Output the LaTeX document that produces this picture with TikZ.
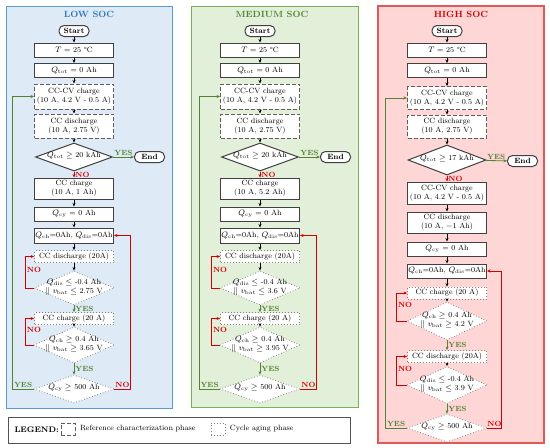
\documentclass[tikz,border=0pt]{standalone}
\usepackage{fontspec}
\usepackage{amsmath}
\usetikzlibrary{positioning,shapes.geometric,arrows.meta}

\definecolor{lowfill}{RGB}{222,235,247}
\definecolor{lowline}{RGB}{91,155,213}
\definecolor{lowtitle}{RGB}{46,117,182}
\definecolor{medfill}{RGB}{226,240,217}
\definecolor{medline}{RGB}{120,176,85}
\definecolor{medtitle}{RGB}{84,130,53}
\definecolor{highfill}{RGB}{255,214,214}
\definecolor{highline}{RGB}{224,88,88}
\definecolor{hightitle}{RGB}{200,0,0}
\definecolor{yesgreen}{RGB}{84,130,53}
\definecolor{nored}{RGB}{210,0,0}
\definecolor{boxgray}{RGB}{64,64,64}

\newcommand{\flowfont}{\fontsize{7.6}{9.2}\selectfont}
\newcommand{\yesnofont}{\fontsize{7.5}{8}\selectfont\bfseries}
\newcommand{\socfont}{\fontsize{9}{10}\selectfont\bfseries}
\newcommand{\dtext}[1]{\smash{\makebox[0pt]{\raisebox{-1pt}{\begin{tabular}{@{}c@{}}#1\end{tabular}}}}}

\tikzset{
  panel/.style={line width=0.8pt},
  block/.style={draw=boxgray, line width=1pt, fill=white, minimum width=79pt,
    minimum height=14pt, inner sep=0pt, align=center, font=\flowfont},
  refblock/.style={block, draw=boxgray!85, dash pattern=on 4pt off 2pt},
  cycblock/.style={block, draw=gray, dotted, line width=0.8pt, minimum height=12pt},
  decision/.style={diamond, draw=gray, dotted, line width=0.8pt, fill=white,
    inner sep=0pt, minimum width=80pt, minimum height=34pt, font=\flowfont},
  gate/.style={decision, solid, draw=boxgray, line width=1pt,
    minimum width=77pt, minimum height=28pt},
  terminal/.style={draw=boxgray, line width=1pt, fill=white, rounded corners=5pt,
    minimum width=30pt, minimum height=11pt, inner sep=0pt, font=\flowfont\bfseries},
  flow/.style={-{Stealth[length=3.5pt,width=3pt]}, line width=0.6pt},
  yesflow/.style={flow, draw=yesgreen, line width=0.8pt},
  noflow/.style={flow, draw=nored, line width=0.8pt},
  yeslabel/.style={text=yesgreen, font=\yesnofont, inner sep=1pt},
  nolabel/.style={text=nored, font=\yesnofont, inner sep=1pt},
  title/.style={font=\socfont}
}

\begin{document}
\begin{tikzpicture}[x=1pt,y=-1pt]
\useasboundingbox (0,0) rectangle (550,448);

% panels
\draw[panel, fill=lowfill, draw=lowline] (6,6) rectangle (172,408);
\draw[panel, fill=medfill, draw=medline] (191,6) rectangle (358,407);
\draw[panel, line width=1.3pt, fill=highfill, draw=highline] (378,6) rectangle (544,443);

\node[title, text=lowtitle] (Ltitle) at (89,14) {LOW SOC};
\node[title, text=medtitle] (Mtitle) at (272,14) {MEDIUM SOC};
\node[title, text=hightitle] (Htitle) at (461,14) {HIGH SOC};

% LOW SOC
\node[terminal] (Lstart) at (74,31) {Start};
\node[block] (LT) at (74,50) {$T$ = 25 °C};
\node[block] (Lqtot) at (74,70.5) {$Q_{\mathrm{tot}}$ = 0 Ah};
\node[refblock, minimum height=25pt] (Lcccv) at (74,96.5) {CC-CV charge\\(10 A, 4.2 V - 0.5 A)};
\node[refblock, minimum height=24pt] (Lccd) at (74,126) {CC discharge\\(10 A, 2.75 V)};
\node[gate] (Ldec) at (74,157) {\dtext{$Q_{\mathrm{tot}}\geq$ 20 kAh}};
\node[terminal] (Lend) at (149.5,157) {End};
\node[block, minimum height=21pt] (Lcc) at (74,188.5) {CC charge\\(10 A, 1 Ah)};
\node[block] (Lqcy) at (74,214) {$Q_{\mathrm{cy}}$ = 0 Ah};
\node[block, minimum height=15pt] (Lqzero) at (74,235.5) {$Q_{\mathrm{ch}}$=0Ah, $Q_{\mathrm{dis}}$=0Ah};
\node[cycblock] (Ldis) at (74,256.5) {CC discharge (20A)};
\node[decision] (Ldisdec) at (74,288) {\dtext{$Q_{\mathrm{dis}}\leq$ -0.4 Ah\\$||$ $v_{\mathrm{bat}}\leq$ 2.75 V}};
\node[cycblock] (Lchg) at (74,318.5) {CC charge (20 A)};
\node[decision, minimum height=36pt] (Lchgdec) at (74,345) {\dtext{$Q_{\mathrm{ch}}\geq$ 0.4 Ah\\$||$ $v_{\mathrm{bat}}\geq$ 3.65 V}};
\node[decision, minimum height=28pt] (Lcydec) at (74,389) {\dtext{$Q_{\mathrm{cy}}\geq$ 500 Ah}};

\draw[flow] (Lstart) -- (LT);
\draw[flow] (LT) -- (Lqtot);
\draw[flow] (Lqtot) -- (Lcccv);
\draw[flow] (Lcccv) -- (Lccd);
\draw[flow] (Lccd) -- (Ldec);
\draw[yesflow] (Ldec) -- node[yeslabel, above] {YES} (Lend);
\draw[noflow] (Ldec) -- node[nolabel, right] {NO} (Lcc);
\draw[flow] (Lcc) -- (Lqcy);
\draw[flow] (Lqcy) -- (Lqzero);
\draw[flow] (Lqzero) -- (Ldis);
\draw[flow] (Ldis) -- (Ldisdec);
\draw[yesflow] (Ldisdec) -- node[yeslabel, right] {YES} (Lchg);
\draw[flow] (Lchg) -- (Lchgdec);
\draw[yesflow] (Lchgdec) -- node[yeslabel, right] {YES} (Lcydec);
\draw[noflow] (Ldisdec.west) -- ++(-8,0) |- node[nolabel, anchor=west, pos=0.28] {NO} (Ldis.west);
\draw[noflow] (Lchgdec.west) -- ++(-8,0) |- node[nolabel, anchor=west, pos=0.28] {NO} (Lchg.west);
\draw[yesflow] (Lcydec.west) -- node[yeslabel, above] {YES} ++(-21,0) |- (Lcccv.west);
\draw[noflow] (Lcydec.east) -- node[nolabel, above] {NO} ++(16,0) |- (Lqzero.east);

% MEDIUM SOC
\begin{scope}[xshift=186]
\node[terminal] (Mstart) at (74,31) {Start};
\node[block] (MT) at (74,50) {$T$ = 25 °C};
\node[block] (Mqtot) at (74,70.5) {$Q_{\mathrm{tot}}$ = 0 Ah};
\node[refblock, minimum height=25pt] (Mcccv) at (74,96.5) {CC-CV charge\\(10 A, 4.2 V - 0.5 A)};
\node[refblock, minimum height=24pt] (Mccd) at (74,126) {CC discharge\\(10 A, 2.75 V)};
\node[gate] (Mdec) at (74,157) {\dtext{$Q_{\mathrm{tot}}\geq$ 20 kAh}};
\node[terminal] (Mend) at (149.5,157) {End};
\node[block, minimum height=21pt] (Mcc) at (74,188.5) {CC charge\\(10 A, 5.2 Ah)};
\node[block] (Mqcy) at (74,214) {$Q_{\mathrm{cy}}$ = 0 Ah};
\node[block, minimum height=15pt] (Mqzero) at (74,235.5) {$Q_{\mathrm{ch}}$=0Ah, $Q_{\mathrm{dis}}$=0Ah};
\node[cycblock] (Mdis) at (74,256.5) {CC discharge (20A)};
\node[decision] (Mdisdec) at (74,288) {\dtext{$Q_{\mathrm{dis}}\leq$ -0.4 Ah\\$||$ $v_{\mathrm{bat}}\leq$ 3.6 V}};
\node[cycblock] (Mchg) at (74,318.5) {CC charge (20 A)};
\node[decision, minimum height=36pt] (Mchgdec) at (74,345) {\dtext{$Q_{\mathrm{ch}}\geq$ 0.4 Ah\\$||$ $v_{\mathrm{bat}}\geq$ 3.95 V}};
\node[decision, minimum height=28pt] (Mcydec) at (74,389) {\dtext{$Q_{\mathrm{cy}}\geq$ 500 Ah}};
\end{scope}

\draw[flow] (Mstart) -- (MT);
\draw[flow] (MT) -- (Mqtot);
\draw[flow] (Mqtot) -- (Mcccv);
\draw[flow] (Mcccv) -- (Mccd);
\draw[flow] (Mccd) -- (Mdec);
\draw[yesflow] (Mdec) -- node[yeslabel, above] {YES} (Mend);
\draw[noflow] (Mdec) -- node[nolabel, right] {NO} (Mcc);
\draw[flow] (Mcc) -- (Mqcy);
\draw[flow] (Mqcy) -- (Mqzero);
\draw[flow] (Mqzero) -- (Mdis);
\draw[flow] (Mdis) -- (Mdisdec);
\draw[yesflow] (Mdisdec) -- node[yeslabel, right] {YES} (Mchg);
\draw[flow] (Mchg) -- (Mchgdec);
\draw[yesflow] (Mchgdec) -- node[yeslabel, right] {YES} (Mcydec);
\draw[noflow] (Mdisdec.west) -- ++(-8,0) |- node[nolabel, anchor=west, pos=0.28] {NO} (Mdis.west);
\draw[noflow] (Mchgdec.west) -- ++(-8,0) |- node[nolabel, anchor=west, pos=0.28] {NO} (Mchg.west);
\draw[yesflow] (Mcydec.west) -- node[yeslabel, above] {YES} ++(-20,0) |- (Mcccv.west);
\draw[noflow] (Mcydec.east) -- node[nolabel, above] {NO} ++(16,0) |- (Mqzero.east);

% HIGH SOC
\begin{scope}[xshift=373]
\node[terminal] (Hstart) at (74,31) {Start};
\node[block] (HT) at (74,50) {$T$ = 25 °C};
\node[block] (Hqtot) at (74,70.5) {$Q_{\mathrm{tot}}$ = 0 Ah};
\node[refblock, minimum height=23pt] (Hcccv) at (74,98) {CC-CV charge\\(10 A, 4.2 V - 0.5 A)};
\node[refblock, minimum height=23pt] (Hccd) at (74,126.5) {CC discharge\\(10 A, 2.75 V)};
\node[gate, minimum width=78pt, minimum height=30pt] (Hdec) at (74,160) {\dtext{$Q_{\mathrm{tot}}\geq$ 17 kAh}};
\node[terminal] (Hend) at (149.5,161) {End};
\node[block, minimum height=22pt] (Hcccv2) at (74,193) {CC-CV charge\\(10 A, 4.2 V - 0.5 A)};
\node[block, minimum height=21pt] (Hccd2) at (74,222.5) {CC discharge\\(10 A, $-$1 Ah)};
\node[block] (Hqcy) at (74,249) {$Q_{\mathrm{cy}}$ = 0 Ah};
\node[block] (Hqzero) at (74,271) {$Q_{\mathrm{ch}}$=0Ah, $Q_{\mathrm{dis}}$=0Ah};
\node[cycblock] (Hchg) at (74,293) {CC charge (20 A)};
\node[decision, minimum height=38pt] (Hchgdec) at (74,321) {\dtext{$Q_{\mathrm{ch}}\geq$ 0.4 Ah\\$||$ $v_{\mathrm{bat}}\geq$ 4.2 V}};
\node[cycblock] (Hdis) at (74,356.5) {CC discharge (20A)};
\node[decision, minimum height=37pt] (Hdisdec) at (74,385) {\dtext{$Q_{\mathrm{dis}}\leq$ -0.4 Ah\\$||$ $v_{\mathrm{bat}}\leq$ 3.9 V}};
\node[decision, minimum height=28pt] (Hcydec) at (74,428) {\dtext{$Q_{\mathrm{cy}}\geq$ 500 Ah}};
\end{scope}

\draw[flow] (Hstart) -- (HT);
\draw[flow] (HT) -- (Hqtot);
\draw[flow] (Hqtot) -- (Hcccv);
\draw[flow] (Hcccv) -- (Hccd);
\draw[flow] (Hccd) -- (Hdec);
\draw[yesflow] (Hdec) -- node[yeslabel, above] {YES} (Hend);
\draw[noflow] (Hdec) -- node[nolabel, right] {NO} (Hcccv2);
\draw[flow] (Hcccv2) -- (Hccd2);
\draw[flow] (Hccd2) -- (Hqcy);
\draw[flow] (Hqcy) -- (Hqzero);
\draw[flow] (Hqzero) -- (Hchg);
\draw[flow] (Hchg) -- (Hchgdec);
\draw[yesflow] (Hchgdec) -- node[yeslabel, right] {YES} (Hdis);
\draw[flow] (Hdis) -- (Hdisdec);
\draw[yesflow] (Hdisdec) -- node[yeslabel, right] {YES} (Hcydec);
\draw[noflow] (Hchgdec.west) -- ++(-10,0) |- node[nolabel, anchor=west, pos=0.28] {NO} (Hchg.west);
\draw[noflow] (Hdisdec.west) -- ++(-10,0) |- node[nolabel, anchor=west, pos=0.28] {NO} (Hdis.west);
\draw[yesflow] (Hcydec.west) -- node[yeslabel, above] {YES} ++(-21,0) |- (Hcccv.west);
\draw[noflow] (Hcydec.east) -- node[nolabel, above] {NO} ++(14,0) |- (Hqzero.east);

% legend
\draw[line width=1pt, draw=boxgray!90] (8,417) rectangle (350,443);
\node[font=\fontsize{8}{9}\selectfont\bfseries, anchor=west] (legend) at (11,430) {LEGEND:};
\node[refblock, minimum width=14pt, minimum height=12pt] (keyref) at (68,429) {};
\node[font=\flowfont, right=1pt of keyref] (keyreftext) {Reference characterization phase};
\node[cycblock, minimum width=14pt, minimum height=12pt] (keycyc) at (218,429) {};
\node[font=\flowfont, right=1pt of keycyc] (keycyctext) {Cycle aging phase};
\end{tikzpicture}
\end{document}
